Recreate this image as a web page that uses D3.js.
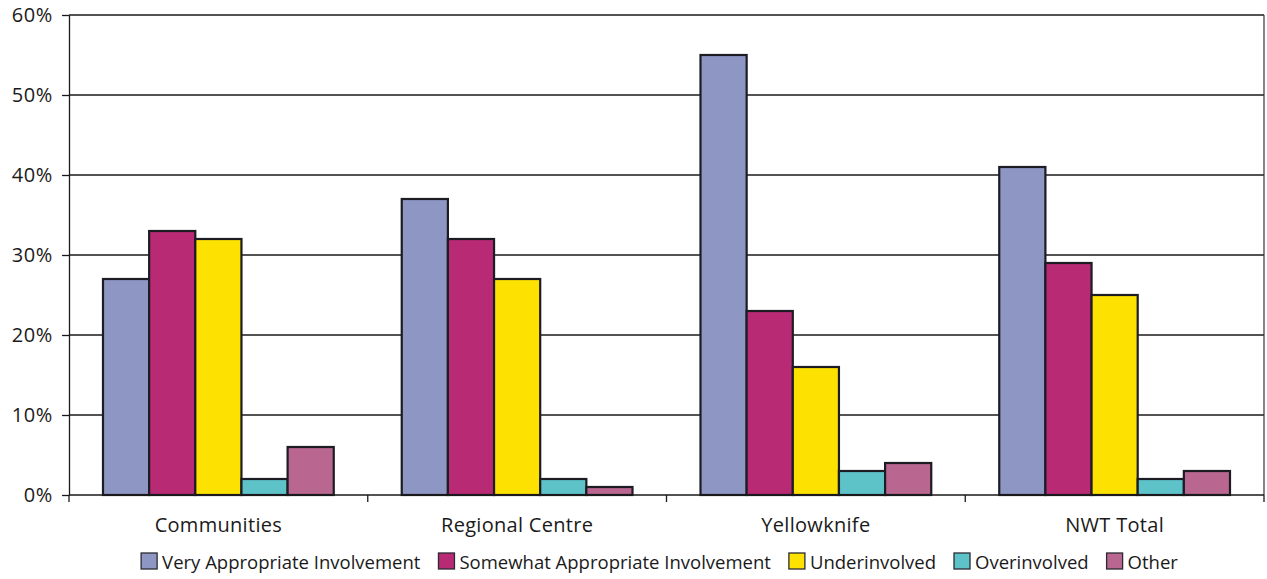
<!DOCTYPE html>
<html>
<head>
<meta charset="utf-8">
<script src="https://cdn.jsdelivr.net/npm/d3@7"></script>
<style>
  html, body { margin: 0; padding: 0; background: #fff; }
  svg { display: block; font-family: "Open Sans", "Noto Sans", sans-serif; }
</style>
</head>
<body>
<svg id="chart" width="1267" height="579"></svg>
<script>
// Involvement ratings by location (percent of respondents)
const categories = ["Communities", "Regional Centre", "Yellowknife", "NWT Total"];
const seriesNames = ["Very Appropriate Involvement", "Somewhat Appropriate Involvement", "Underinvolved", "Overinvolved", "Other"];
const veryAppropriate = [27, 37, 55, 41];
const somewhatAppropriate = [33, 32, 23, 29];
const underinvolved = [32, 27, 16, 25];
const overinvolved = [2, 2, 3, 2];
const other = [6, 1, 4, 3];
const yTicks = [0, 10, 20, 30, 40, 50, 60];
const colors = ["#8e97c4", "#b92a75", "#fde100", "#5ec3c9", "#b96690"];

const seriesValues = [veryAppropriate, somewhatAppropriate, underinvolved, overinvolved, other];

const svg = d3.select("#chart");
const margin = { left: 69, right: 1264, top: 15, bottom: 495 };
const ink = "#1a1a1a";

const x = d3.scaleBand().domain(categories).range([margin.left, margin.right]).padding(0);
// five adjacent bars centred in each category slot
const xInner = d3.scaleBand().domain(seriesNames).range([34, x.bandwidth() - 34]).padding(0);

const y = d3.scaleLinear().domain([0, 60]).range([margin.bottom, margin.top]);

// horizontal gridlines
svg.append("g")
  .selectAll("line")
  .data(yTicks.filter(d => d > 0))
  .join("line")
  .attr("x1", margin.left).attr("x2", margin.right)
  .attr("y1", d => y(d)).attr("y2", d => y(d))
  .attr("stroke", ink).attr("stroke-width", 1.3);

// right frame line
svg.append("line")
  .attr("x1", margin.right).attr("x2", margin.right)
  .attr("y1", margin.top).attr("y2", margin.bottom)
  .attr("stroke", "#333").attr("stroke-width", 1.2);

// bars
const groups = svg.append("g")
  .selectAll("g")
  .data(categories)
  .join("g")
  .attr("transform", d => `translate(${x(d)},0)`);

groups.selectAll("rect")
  .data((c, ci) => seriesNames.map((s, si) => ({ s, si, v: seriesValues[si][ci] })))
  .join("rect")
  .attr("x", d => xInner(d.s))
  .attr("width", xInner.bandwidth())
  .attr("y", d => y(d.v))
  .attr("height", d => y(0) - y(d.v))
  .attr("fill", d => colors[d.si])
  .attr("stroke", "#1c1c24")
  .attr("stroke-width", 2.2);

// y axis
const yAxis = d3.axisLeft(y).tickValues(yTicks).tickFormat(d => d + "%").tickSize(7).tickSizeOuter(0);
const gy = svg.append("g").attr("transform", `translate(${margin.left},0)`).call(yAxis);
gy.select(".domain").attr("stroke", ink).attr("stroke-width", 1.3);
gy.selectAll(".tick line").attr("stroke", ink).attr("stroke-width", 1.3);
gy.selectAll(".tick text")
  .attr("x", -16)
  .attr("font-size", 20)
  .attr("letter-spacing", 0.6)
  .attr("fill", ink)
  .attr("font-family", "Open Sans, Noto Sans, sans-serif");

// x axis with ticks at category boundaries
const gx = svg.append("g").attr("transform", `translate(0,${margin.bottom})`);
gx.append("line")
  .attr("x1", margin.left).attr("x2", margin.right)
  .attr("y1", 0).attr("y2", 0)
  .attr("stroke", ink).attr("stroke-width", 1.3);
const boundaries = categories.map(c => x(c)).concat([x(categories[categories.length - 1]) + x.bandwidth()]);
gx.selectAll("line.tick")
  .data(boundaries)
  .join("line")
  .attr("class", "tick")
  .attr("x1", d => d).attr("x2", d => d)
  .attr("y1", 0).attr("y2", 7)
  .attr("stroke", ink).attr("stroke-width", 1.3);
gx.selectAll("text")
  .data(categories)
  .join("text")
  .attr("x", d => x(d) + x.bandwidth() / 2)
  .attr("y", 37)
  .attr("text-anchor", "middle")
  .attr("font-size", 20)
  .attr("letter-spacing", 0.3)
  .attr("fill", ink)
  .text(d => d);

// legend
const legend = svg.append("g").attr("transform", "translate(0,569)");
const legendFont = 18.5;
const sw = 16, gapAfterSwatch = 5, gapBetween = 18;
const tmp = svg.append("text").attr("font-size", legendFont);
const widths = seriesNames.map(n => { tmp.text(n); return tmp.node().getComputedTextLength(); });
tmp.remove();
const total = d3.sum(widths) + seriesNames.length * (sw + gapAfterSwatch) + (seriesNames.length - 1) * gapBetween;
let lx = 138 + (1181 - 138 - total) / 2;
seriesNames.forEach((n, i) => {
  legend.append("rect")
    .attr("x", lx).attr("y", -16)
    .attr("width", sw).attr("height", sw)
    .attr("fill", colors[i])
    .attr("stroke", "#2a2a33").attr("stroke-width", 1.3);
  legend.append("text")
    .attr("x", lx + sw + gapAfterSwatch)
    .attr("y", 0)
    .attr("font-size", legendFont)
    .attr("fill", ink)
    .text(n);
  lx += sw + gapAfterSwatch + widths[i] + gapBetween;
});
</script>
</body>
</html>
